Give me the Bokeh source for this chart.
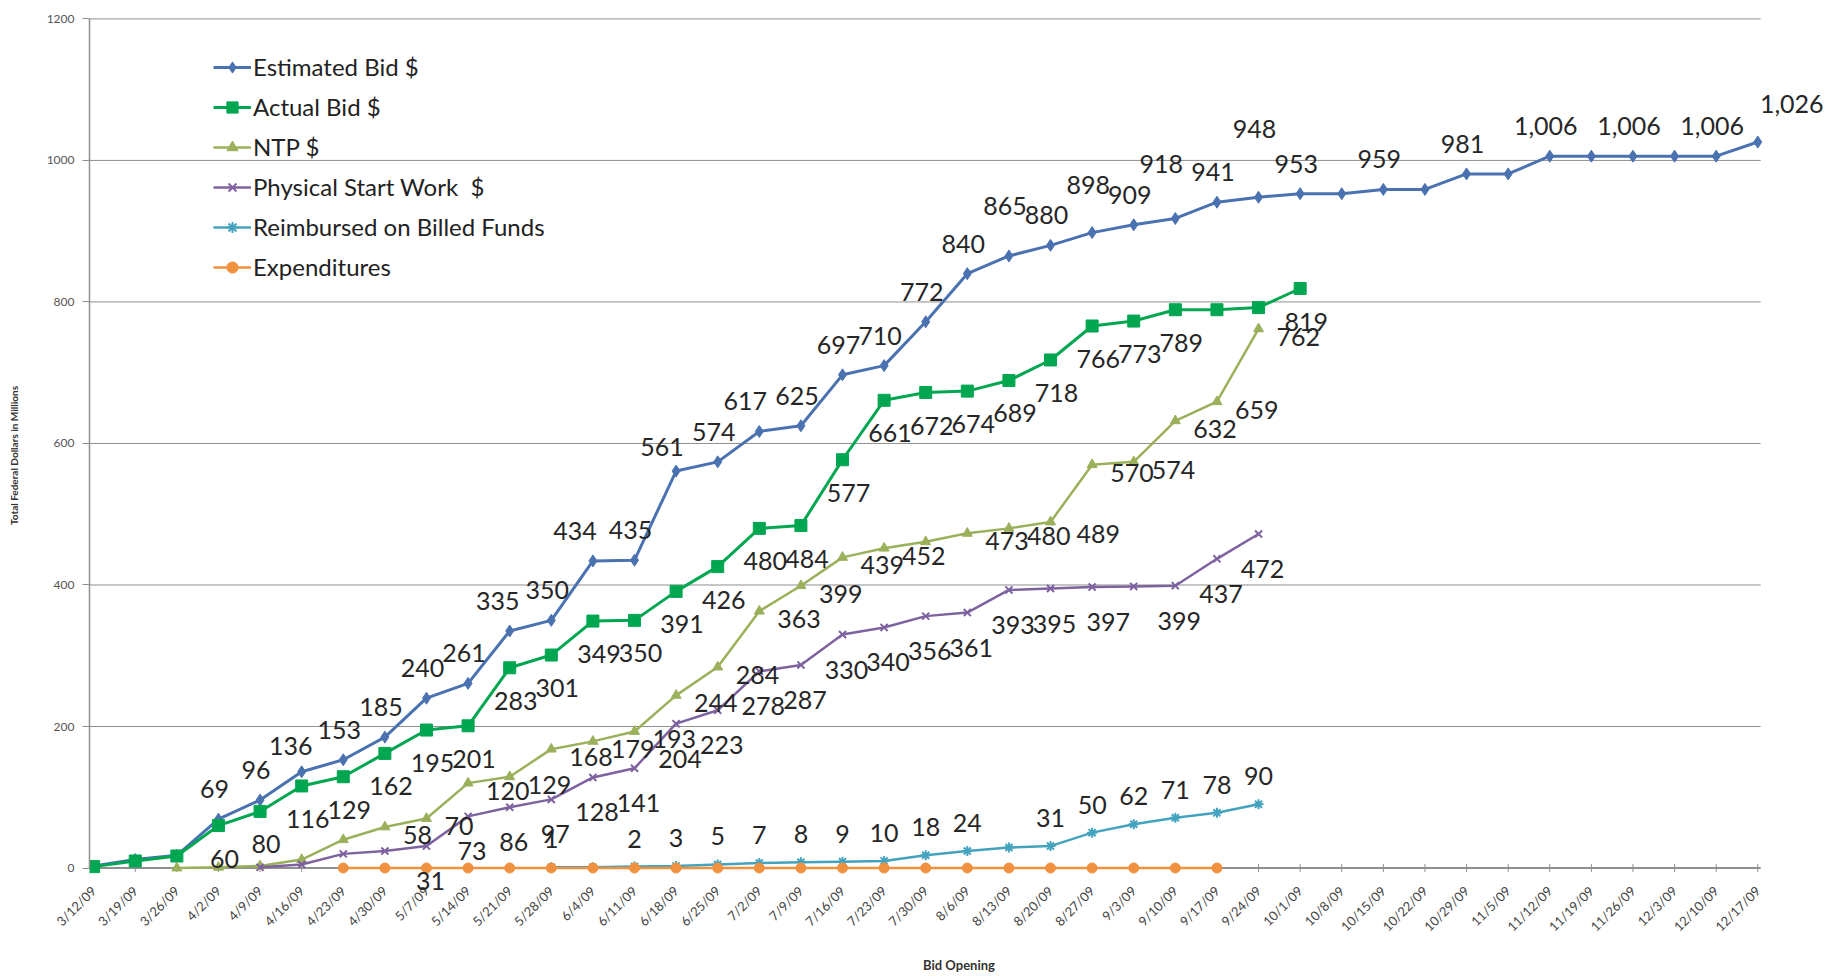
import math
from bokeh.plotting import figure
from bokeh.models import (ColumnDataSource, Range1d, FixedTicker, Legend,
                          LegendItem, LabelSet)
from bokeh.core.properties import value
from bokeh.embed import file_html
from bokeh.resources import INLINE

# ---------------- data ----------------
dates = ["3/12/09", "3/19/09", "3/26/09", "4/2/09", "4/9/09", "4/16/09", "4/23/09", "4/30/09",
         "5/7/09", "5/14/09", "5/21/09", "5/28/09", "6/4/09", "6/11/09", "6/18/09", "6/25/09",
         "7/2/09", "7/9/09", "7/16/09", "7/23/09", "7/30/09", "8/6/09", "8/13/09", "8/20/09",
         "8/27/09", "9/3/09", "9/10/09", "9/17/09", "9/24/09", "10/1/09", "10/8/09", "10/15/09",
         "10/22/09", "10/29/09", "11/5/09", "11/12/09", "11/19/09", "11/26/09", "12/3/09",
         "12/10/09", "12/17/09"]

est_name = "Estimated Bid $"
est_start = "3/12/09"
est_values = [3, 12, 18, 69, 96, 136, 153, 185, 240, 261, 335, 350, 434, 435, 561, 574,
              617, 625, 697, 710, 772, 840, 865, 880, 898, 909, 918, 941, 948, 953, 953,
              959, 959, 981, 981, 1006, 1006, 1006, 1006, 1006, 1026]
est_unlabeled = ["3/12/09", "3/19/09", "3/26/09", "10/8/09", "10/22/09", "11/5/09",
                 "11/19/09", "12/3/09"]

act_name = "Actual Bid $"
act_start = "3/12/09"
act_values = [2, 10, 17, 60, 80, 116, 129, 162, 195, 201, 283, 301, 349, 350, 391, 426,
              480, 484, 577, 661, 672, 674, 689, 718, 766, 773, 789, 789, 792, 819]
act_unlabeled = ["3/12/09", "3/19/09", "3/26/09", "9/17/09", "9/24/09"]

ntp_name = "NTP $"
ntp_start = "3/26/09"
ntp_values = [0, 1, 3, 12, 40, 58, 70, 120, 129, 168, 179, 193, 244, 284, 363, 399, 439,
              452, 461, 473, 480, 489, 570, 574, 632, 659, 762]
ntp_unlabeled = ["3/26/09", "4/2/09", "4/9/09", "4/16/09", "4/23/09", "7/30/09"]

phys_name = "Physical Start Work  $"
phys_start = "4/9/09"
phys_values = [1, 5, 20, 24, 31, 73, 86, 97, 128, 141, 204, 223, 278, 287, 330, 340, 356,
               361, 393, 395, 397, 398, 399, 437, 472]
phys_unlabeled = ["4/9/09", "4/16/09", "4/23/09", "4/30/09", "9/3/09"]

reimb_name = "Reimbursed on Billed Funds"
reimb_start = "5/28/09"
reimb_values = [1, 1, 2, 3, 5, 7, 8, 9, 10, 18, 24, 29, 31, 50, 62, 71, 78, 90]
reimb_unlabeled = ["6/4/09", "8/13/09"]

exp_name = "Expenditures"
exp_start = "4/23/09"
exp_values = [0, 0, 0, 0, 0, 0, 0, 0, 0, 0, 0, 0, 0, 0, 0, 0, 0, 0, 0, 0, 0, 0]

y_ticks = [0, 200, 400, 600, 800, 1000, 1200]
x_title = "Bid Opening"
y_title = "Total Federal Dollars in Millions"

# ---------------- styling ----------------
FONT = "Lato"
LABEL_COLOR = "#262626"
GRID = "#8f8f8f"

# plot-area extent (category units); room is left beyond it for overhanging labels
x_lo = -0.1
x_hi = len(dates) - 1 + 0.07

p = figure(frame_width=1739, frame_height=876,
           x_range=Range1d(x_lo, 41.7), y_range=Range1d(-36, 1202),
           output_backend="svg", toolbar_location=None,
           min_border_left=89, min_border_right=10, min_border_top=17,
           min_border_bottom=0)
p.outline_line_color = None
p.background_fill_color = "white"
p.border_fill_color = "white"

p.xgrid.grid_line_color = None
p.ygrid.grid_line_color = None

# horizontal gridlines and the category axis line, ending at the last category
p.segment(x0=[x_lo] * len(y_ticks), x1=[x_hi] * len(y_ticks), y0=y_ticks, y1=y_ticks,
          line_color=GRID, line_width=[2] + [1] * (len(y_ticks) - 1))
# small tick marks on the category axis
p.scatter(x=list(range(len(dates))), y=[y_ticks[0]] * len(dates), marker="dash",
          angle=math.pi / 2, size=8, line_color=GRID, line_width=1)

p.yaxis.ticker = FixedTicker(ticks=y_ticks)
p.yaxis.bounds = (0, 1200)
p.yaxis.axis_line_color = GRID
p.yaxis.axis_line_width = 1.5
p.yaxis.major_tick_line_color = GRID
p.yaxis.major_tick_out = 7
p.yaxis.major_tick_in = 0
p.yaxis.minor_tick_line_color = None
p.yaxis.major_label_text_font = FONT
p.yaxis.major_label_text_font_size = "12px"
p.yaxis.major_label_text_color = "#555555"
p.yaxis.major_label_standoff = 8
p.yaxis.axis_label = y_title
p.yaxis.axis_label_text_font = FONT
p.yaxis.axis_label_text_font_size = "10px"
p.yaxis.axis_label_text_font_style = "bold"
p.yaxis.axis_label_text_color = "#333333"
p.yaxis.axis_label_standoff = 24

p.xaxis.ticker = FixedTicker(ticks=list(range(len(dates))))
p.xaxis.major_label_overrides = {i: d for i, d in enumerate(dates)}
p.xaxis.major_label_orientation = math.pi / 4
p.xaxis.axis_line_color = None
p.xaxis.major_tick_line_color = None
p.xaxis.minor_tick_line_color = None
p.xaxis.major_label_text_font = FONT
p.xaxis.major_label_text_font_size = "13px"
p.xaxis.major_label_text_color = "#444444"
p.xaxis.major_label_standoff = -11
p.xaxis.axis_label = x_title
p.xaxis.axis_label_text_font = FONT
p.xaxis.axis_label_text_font_size = "13px"
p.xaxis.axis_label_text_font_style = "bold"
p.xaxis.axis_label_text_color = "#333333"
p.xaxis.axis_label_standoff = 14

series = [
    (est_name, est_start, est_values, est_unlabeled,
     dict(color="#4A72B0", marker="diamond", size=12, lw=3),
     dict(align="center", dx=-4, dy=30)),
    (act_name, act_start, act_values, act_unlabeled,
     dict(color="#00A650", marker="square", size=12, lw=3),
     dict(align="center", dx=6, dy=-33)),
    (ntp_name, ntp_start, ntp_values, ntp_unlabeled,
     dict(color="#9BB05A", marker="triangle", size=10, lw=2.5),
     dict(align="left", dx=18, dy=-8)),
    (phys_name, phys_start, phys_values, phys_unlabeled,
     dict(color="#7E62A0", marker="x", size=10, lw=2.5),
     dict(align="center", dx=4, dy=-35)),
    (reimb_name, reimb_start, reimb_values, reimb_unlabeled,
     dict(color="#43A3BF", marker="asterisk", size=10, lw=2.5),
     dict(align="center", dx=0, dy=28)),
    (exp_name, exp_start, exp_values, None,
     dict(color="#F0913F", marker="circle", size=10, lw=2.5),
     None),
]

# a few labels moved in the original chart
extra_offsets = {
    (est_name, "4/16/09"): (-7, -4),
    (est_name, "5/21/09"): (-8, 0),
    (est_name, "6/4/09"): (-14, 0),
    (est_name, "6/18/09"): (-10, -6),
    (est_name, "7/2/09"): (-10, 0),
    (est_name, "8/13/09"): (0, 20),
    (est_name, "8/27/09"): (0, 18),
    (est_name, "9/10/09"): (-10, 24),
    (est_name, "9/24/09"): (0, 38),
    (est_name, "12/17/09"): (38, 8),
    (phys_name, "8/27/09"): (12, 0),
    (ntp_name, "8/20/09"): (8, -4),
}

legend_items = []
for name, start, vals, unlabeled, st, lab in series:
    i0 = dates.index(start)
    xs = list(range(i0, i0 + len(vals)))
    src = ColumnDataSource(dict(x=xs, y=vals))
    lr = p.line("x", "y", source=src, line_color=st["color"], line_width=st["lw"])
    if st["marker"] in ("x", "asterisk"):
        sr = p.scatter("x", "y", source=src, marker=st["marker"], size=st["size"],
                       line_color=st["color"], line_width=2)
    else:
        sr = p.scatter("x", "y", source=src, marker=st["marker"], size=st["size"],
                       fill_color=st["color"], line_color=st["color"])
    legend_items.append(LegendItem(label=name, renderers=[lr, sr]))

    if lab is None:
        continue
    lx, ly, lt, dxs, dys = [], [], [], [], []
    for x, v in zip(xs, vals):
        d = dates[x]
        if d in unlabeled:
            continue
        ex, ey = extra_offsets.get((name, d), (0, 0))
        lx.append(x)
        ly.append(v)
        lt.append("{:,}".format(v))
        dxs.append(lab["dx"] + ex)
        dys.append(lab["dy"] + ey)
    lsrc = ColumnDataSource(dict(x=lx, y=ly, t=lt, dx=dxs, dy=dys))
    p.add_layout(LabelSet(x="x", y="y", text="t", source=lsrc,
                          x_offset="dx", y_offset="dy",
                          text_align=lab["align"], text_baseline="middle",
                          text_font=value(FONT), text_font_size="25px",
                          text_color=LABEL_COLOR))

# legend: (x, y) = left and bottom edge in pixels inside the plot area
legend = Legend(items=legend_items, location=(124, 612))
legend.background_fill_alpha = 0
legend.border_line_color = None
legend.padding = 0
legend.margin = 0
legend.spacing = 11
legend.glyph_width = 38
legend.glyph_height = 28
legend.label_height = 28
legend.label_standoff = 2
legend.label_text_font = FONT
legend.label_text_font_size = "24px"
legend.label_text_color = "#222222"
p.add_layout(legend)

open("out.html", "w").write(file_html(p, INLINE))
